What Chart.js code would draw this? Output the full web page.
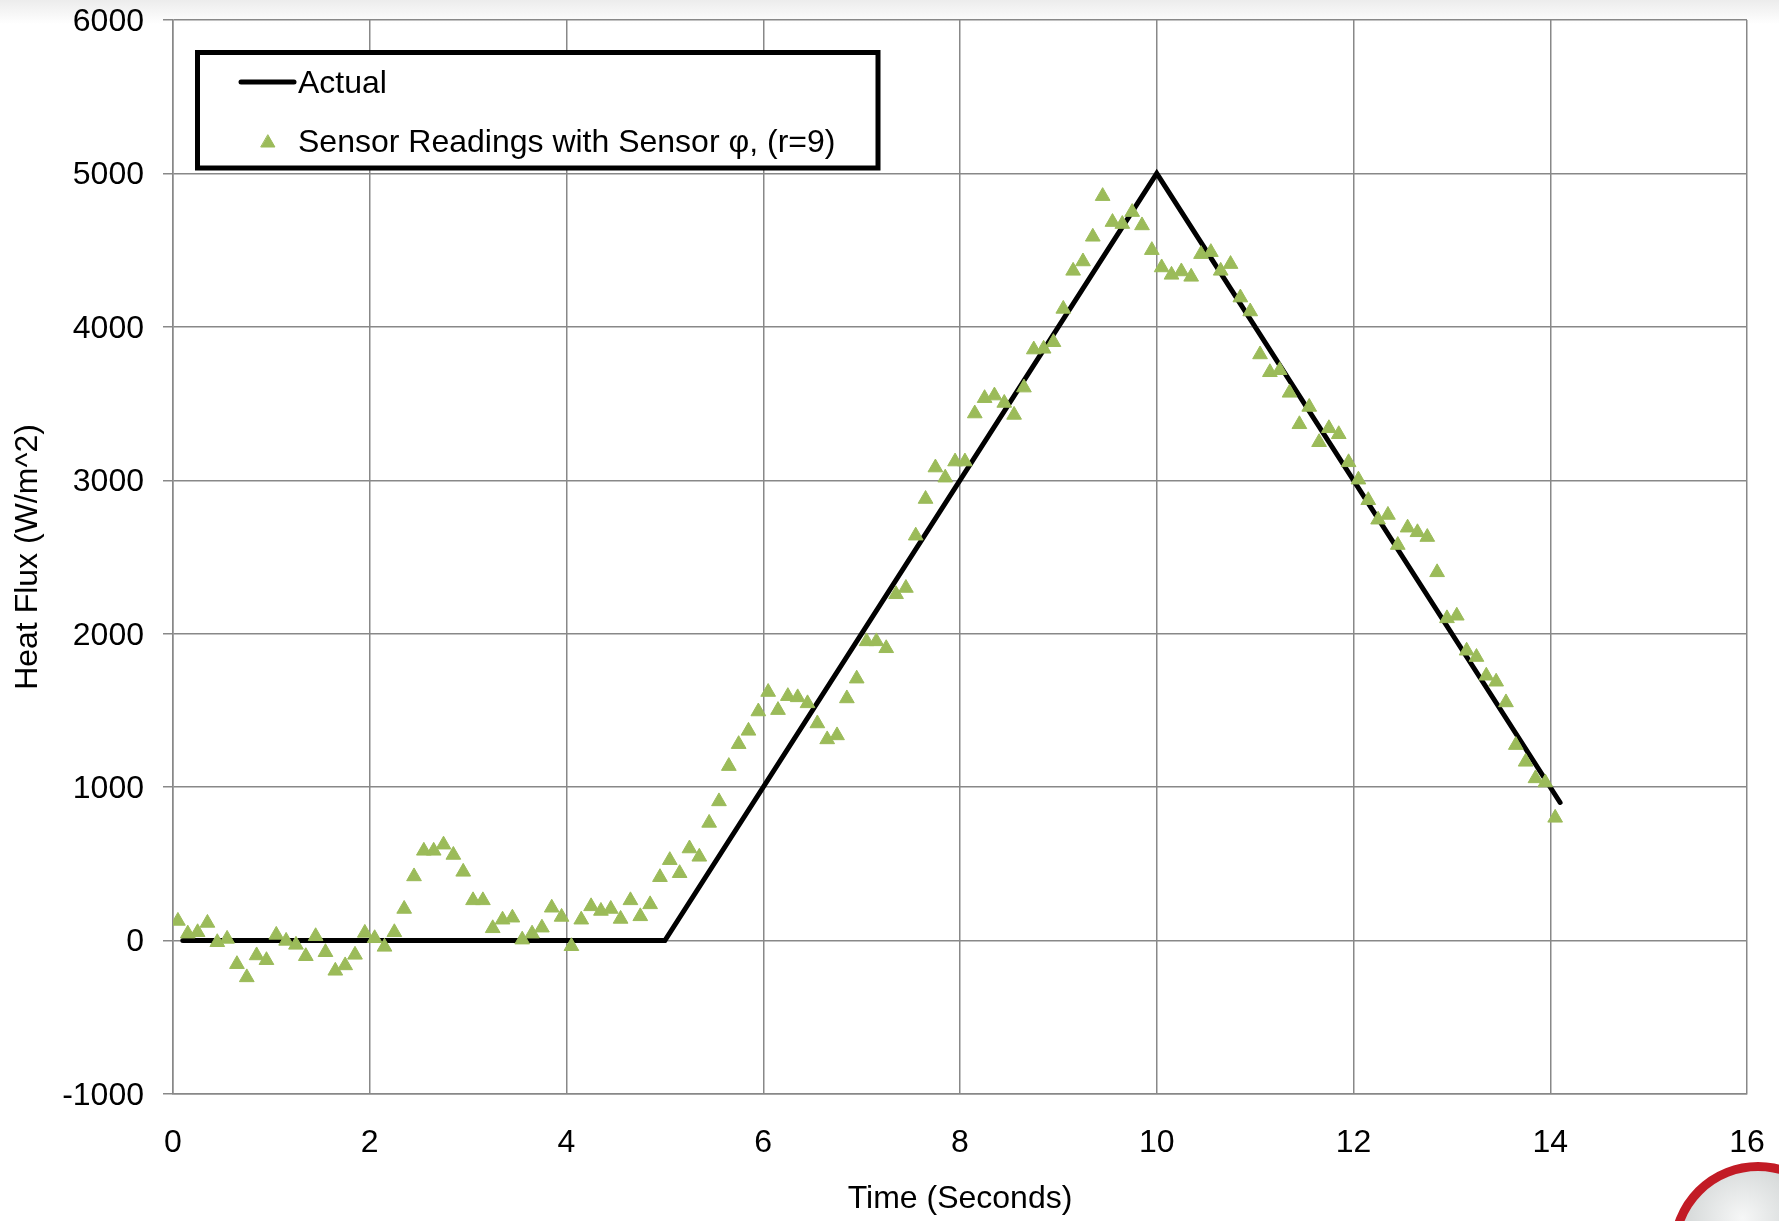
<!DOCTYPE html>
<html>
<head>
<meta charset="utf-8">
<title>Heat Flux vs Time</title>
<script src="https://cdn.jsdelivr.net/npm/chart.js@4.4.1/dist/chart.umd.min.js"></script>
<style>
  html, body { margin: 0; padding: 0; overflow: hidden; }
  body {
    position: relative;
    width: 1779px;
    height: 1221px;
    background: linear-gradient(#ececec 0px, #ffffff 24px);
  }
  #wrap { position: absolute; left: 0; top: 0; width: 1779px; height: 1221px; }
  /* round badge in the lower right corner */
  .badge {
    position: absolute;
    left: 1670px;
    top: 1162px;
    width: 176px;
    height: 176px;
    box-sizing: border-box;
    border-radius: 50%;
    border: 9px solid #c21b25;
    background: radial-gradient(circle at 40% 30%, #f6f7f7 0%, #cdd1d1 50%, #8f9595 100%);
  }
</style>
</head>
<body>
<div id="wrap"><canvas id="flux" width="1779" height="1221"></canvas></div>
<div class="badge"></div>
<script>
// sensor readings, one every 0.1 s
const sensorTime = [
  0.05, 0.15, 0.25, 0.35, 0.45, 0.55, 0.65, 0.75, 0.85, 0.95,
  1.05, 1.15, 1.25, 1.35, 1.45, 1.55, 1.65, 1.75, 1.85, 1.95,
  2.05, 2.15, 2.25, 2.35, 2.45, 2.55, 2.65, 2.75, 2.85, 2.95,
  3.05, 3.15, 3.25, 3.35, 3.45, 3.55, 3.65, 3.75, 3.85, 3.95,
  4.05, 4.15, 4.25, 4.35, 4.45, 4.55, 4.65, 4.75, 4.85, 4.95,
  5.05, 5.15, 5.25, 5.35, 5.45, 5.55, 5.65, 5.75, 5.85, 5.95,
  6.05, 6.15, 6.25, 6.35, 6.45, 6.55, 6.65, 6.75, 6.85, 6.95,
  7.05, 7.15, 7.25, 7.35, 7.45, 7.55, 7.65, 7.75, 7.85, 7.95,
  8.05, 8.15, 8.25, 8.35, 8.45, 8.55, 8.65, 8.75, 8.85, 8.95,
  9.05, 9.15, 9.25, 9.35, 9.45, 9.55, 9.65, 9.75, 9.85, 9.95,
  10.05, 10.15, 10.25, 10.35, 10.45, 10.55, 10.65, 10.75, 10.85, 10.95,
  11.05, 11.15, 11.25, 11.35, 11.45, 11.55, 11.65, 11.75, 11.85, 11.95,
  12.05, 12.15, 12.25, 12.35, 12.45, 12.55, 12.65, 12.75, 12.85, 12.95,
  13.05, 13.15, 13.25, 13.35, 13.45, 13.55, 13.65, 13.75, 13.85, 13.95,
  14.05
];
const sensorFlux = [
  128, 45, 54, 115, -11, 11, -154, -240, -97, -128,
  37, -2, -28, -102, 28, -76, -197, -162, -93, 50,
  15, -41, 54, 206, 418, 585, 585, 625, 558, 448,
  262, 262, 80, 136, 149, 6, 45, 84, 214, 154,
  -37, 136, 223, 193, 206, 141, 262, 158, 236, 413,
  524, 439, 600, 546, 767, 907, 1137, 1280, 1367, 1493,
  1620, 1502, 1593, 1585, 1546, 1415, 1311, 1337, 1578, 1707,
  1950, 1950, 1905, 2257, 2298, 2639, 2878, 3083, 3017, 3122,
  3122, 3435, 3535, 3552, 3504, 3426, 3604, 3852, 3857, 3900,
  4117, 4365, 4426, 4587, 4852, 4683, 4670, 4748, 4661, 4500,
  4387, 4339, 4361, 4326, 4474, 4487, 4365, 4409, 4191, 4100,
  3820, 3704, 3717, 3570, 3365, 3478, 3248, 3339, 3300, 3117,
  3004, 2870, 2743, 2774, 2578, 2691, 2661, 2630, 2400, 2100,
  2117, 1889, 1848, 1726, 1687, 1552, 1274, 1165, 1057, 1030,
  800
];

// actual (imposed) heat flux profile
const actualTime = [0.1, 5, 10, 14.1];
const actualFlux = [0, 0, 5000, 900];

const xTicks = [0, 2, 4, 6, 8, 10, 12, 14, 16];
const yTicks = [-1000, 0, 1000, 2000, 3000, 4000, 5000, 6000];

const FONT = '"Liberation Sans", Arial, sans-serif';
const GRID = '#888888';

Chart.defaults.font.family = FONT;
Chart.defaults.font.size = 32;
Chart.defaults.color = '#000';

// boxed legend in the upper left of the plot
const boxLegend = {
  id: 'boxLegend',
  afterDatasetsDraw(chart) {
    const ctx = chart.ctx;
    const sensor = chart.data.datasets[0];
    const actual = chart.data.datasets[1];
    ctx.save();
    ctx.fillStyle = '#fff';
    ctx.fillRect(197.5, 52.5, 680.5, 115.5);
    ctx.lineWidth = 5;
    ctx.strokeStyle = '#000';
    ctx.strokeRect(197.5, 52.5, 680.5, 115.5);

    ctx.beginPath();
    ctx.lineCap = 'round';
    ctx.lineWidth = actual.borderWidth;
    ctx.strokeStyle = actual.borderColor;
    ctx.moveTo(241, 82);
    ctx.lineTo(294, 82);
    ctx.stroke();

    ctx.fillStyle = sensor.backgroundColor;
    ctx.strokeStyle = sensor.borderColor;
    ctx.lineWidth = 1;
    Chart.helpers.drawPoint(ctx, { pointStyle: 'triangle', radius: 8, borderWidth: 1 }, 268, 143);

    ctx.fillStyle = '#000';
    ctx.font = '32px ' + FONT;
    ctx.textAlign = 'left';
    ctx.textBaseline = 'alphabetic';
    ctx.fillText(actual.label, 298, 93);
    ctx.fillText(sensor.label, 298, 152);
    ctx.restore();
  }
};

new Chart(document.getElementById('flux'), {
  type: 'scatter',
  data: {
    datasets: [
      {
        label: 'Sensor Readings with Sensor \u03C6, (r=9)',
        data: sensorTime.map((t, i) => ({ x: t, y: sensorFlux[i] })),
        pointStyle: 'triangle',
        pointRadius: 8.5,
        backgroundColor: '#9bbb59',
        borderColor: '#9bbb59',
        borderWidth: 1,
        order: 1
      },
      {
        label: 'Actual',
        data: actualTime.map((t, i) => ({ x: t, y: actualFlux[i] })),
        showLine: true,
        pointRadius: 0,
        borderColor: '#000',
        borderWidth: 5,
        borderCapStyle: 'round',
        borderJoinStyle: 'miter',
        order: 2
      }
    ]
  },
  options: {
    responsive: false,
    animation: false,
    layout: { padding: { top: 20, right: 32, left: 0, bottom: 0 } },
    plugins: {
      legend: { display: false },
      tooltip: { enabled: false }
    },
    scales: {
      x: {
        type: 'linear',
        min: 0,
        max: 16,
        afterBuildTicks: s => { s.ticks = xTicks.map(v => ({ value: v })); },
        afterFit: s => {
          s.height = 127;
          s.paddingLeft = 0;
          s.paddingRight = 0;
        },
        grid: { color: GRID, lineWidth: 1.5, drawTicks: false },
        border: { color: GRID, width: 1.5 },
        ticks: { padding: 30, maxRotation: 0, callback: v => String(v) },
        title: {
          display: true,
          text: 'Time (Seconds)',
          padding: { top: 0, bottom: 3 }
        }
      },
      y: {
        type: 'linear',
        min: -1000,
        max: 6000,
        afterBuildTicks: s => { s.ticks = yTicks.map(v => ({ value: v })); },
        afterFit: s => {
          s.width = 173;
          s.paddingTop = 0;
          s.paddingBottom = 0;
        },
        grid: { color: GRID, lineWidth: 1.5, tickLength: 10 },
        border: { color: GRID, width: 1.5 },
        ticks: { padding: 19, labelOffset: 2, callback: v => String(v) },
        title: {
          display: true,
          text: 'Heat Flux (W/m^2)',
          padding: { top: 9, bottom: 0 }
        }
      }
    }
  },
  plugins: [boxLegend]
});
</script>
</body>
</html>
